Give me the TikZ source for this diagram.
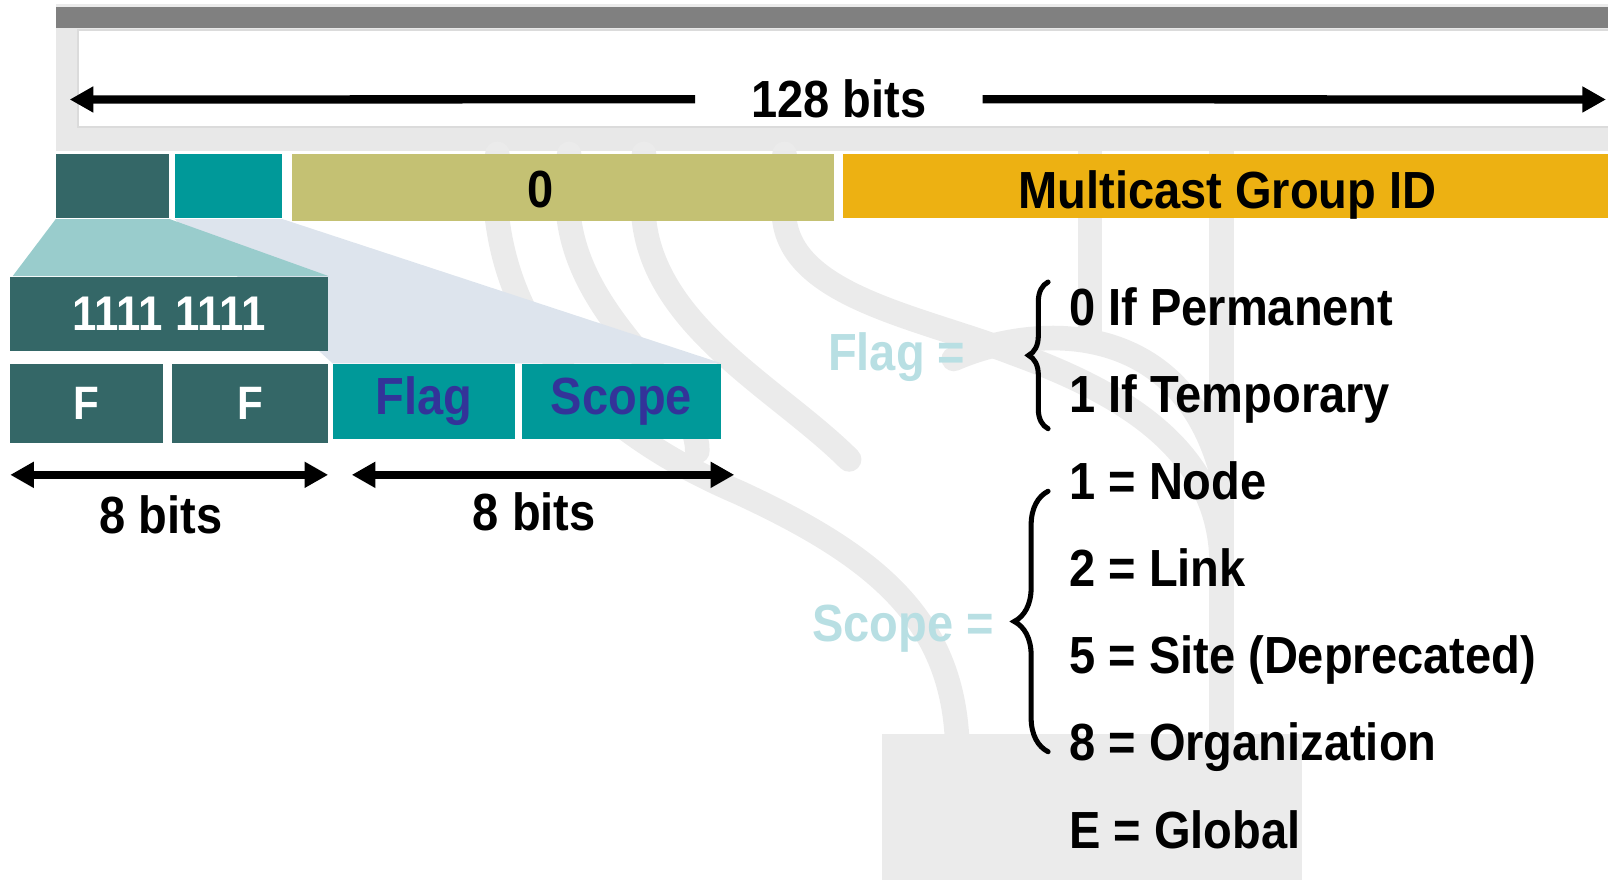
\documentclass[tikz,border=0pt]{standalone}
\usepackage{fontspec}
\setmainfont{Liberation Sans}[FakeStretch=0.9]
\usetikzlibrary{arrows.meta}
\usetikzlibrary{decorations.pathreplacing}

\definecolor{darkteal}{HTML}{346767}
\definecolor{fieldteal}{HTML}{009999}
\definecolor{khaki}{HTML}{C4C173}
\definecolor{amber}{HTML}{EDB112}
\definecolor{paleteal}{HTML}{99CCCC}
\definecolor{paleblue}{HTML}{DDE4ED}
\definecolor{indigo}{HTML}{333399}
\definecolor{ghost}{HTML}{B8DFE3}
\definecolor{wmark}{HTML}{EBEBEB}

\tikzset{
  >={Triangle[length=2.3mm,width=2.4mm]},
  txt/.style={font=\bfseries\fontsize{14.5}{17}\selectfont},
  cell/.style={inner sep=0pt, txt},
  band/.style={wmark, line width=2.4mm, line cap=round},
  dim/.style={line width=2.3pt},
  brc/.style={decorate, line width=1.4pt, line cap=round},
}

\begin{document}
\begin{tikzpicture}[x=0.1mm, y=-0.1mm]
\useasboundingbox (0,0) rectangle (1568,858);

% frame and faint background pattern
\fill[black!8] (55,4) rectangle (1568,7);
\fill[black!50] (55,7) rectangle (1568,27);
\fill[black!9] (55,27) rectangle (1568,147);
\filldraw[fill=white, draw=black!14, line width=0.6pt] (76,29) rectangle (1590,124);
\draw[band, line cap=butt] (1063,147) -- (1063,330);
\draw[band, line cap=butt] (1191,147) -- (1191,858);
\draw[band] (930,350) .. controls (1010,315) and (1150,310) .. (1191,460);
\draw[band] (765,150) -- (765,215) .. controls (775,290) and (900,310) .. (990,345) .. controls (1100,385) and (1185,440) .. (1191,540);
\draw[band] (485,150) -- (485,215) .. controls (500,330) and (580,420) .. (720,480) .. controls (850,540) and (925,600) .. (933,716);
\draw[band] (555,150) -- (555,215) .. controls (570,320) and (680,380) .. (680,440);
\draw[band] (628,150) -- (628,215) .. controls (640,320) and (760,380) .. (828,448);
\fill[wmark] (860,716) rectangle (1270,858);

% 128 bit address
\node[txt, anchor=base, inner xsep=5.4mm] (bits128) at (818,115) {128 bits};
\coordinate (addrL) at (68,97);
\coordinate (addrR) at (1566,97);
\draw[dim,->] (bits128.west) -- (addrL);
\draw[dim,->] (bits128.east) -- (addrR);

\node[cell, fill=darkteal, minimum width=11mm, minimum height=6.3mm] (tagHi) at (110,181.5) {};
\node[cell, fill=fieldteal, minimum width=10.4mm, minimum height=6.3mm] (tagLo) at (223,181.5) {};
\node[cell, fill=khaki, minimum width=52.8mm, minimum height=6.5mm] (zeros) at (549,182.5) {};
\node[txt, anchor=base] (zeroTxt) at (527,202) {0};
\node[cell, fill=amber, minimum width=74.6mm, minimum height=6.3mm] (groupId) at (1195,181.5) {};
\node[txt, anchor=base] (groupTxt) at (1197,203) {Multicast Group ID};

% first byte, split up
\node[cell, fill=darkteal, text=white, minimum width=14.9mm, minimum height=7.7mm, font=\bfseries\fontsize{13}{15}\selectfont] (nibF1) at (84.5,393.5) {F};
\node[cell, fill=darkteal, text=white, minimum width=15.2mm, minimum height=7.7mm, font=\bfseries\fontsize{13}{15}\selectfont] (nibF2) at (244,393.5) {F};
\node[cell, fill=fieldteal, text=indigo, minimum width=17.7mm, minimum height=7.3mm] (flagF) at (413.5,391.5) {Flag};
\node[cell, fill=fieldteal, text=indigo, minimum width=19.4mm, minimum height=7.3mm] (scopeF) at (606,391.5) {Scope};

\fill[paleblue] (tagLo.south west) -- (tagLo.south east) -- (scopeF.north east) -- (flagF.north west) -- cycle;
\node[cell, fill=darkteal, text=white, minimum width=31mm, minimum height=7.2mm, font=\bfseries\fontsize{13.5}{15}\selectfont] (ones) at (165,306) {1111 1111};
\fill[paleteal] (tagHi.south west) -- (tagHi.south east) -- (ones.north east) -- ([xshift=0.3mm]ones.north west) -- cycle;

\coordinate (byteAL) at (10,463);
\coordinate (byteAR) at (320,463);
\coordinate (byteBL) at (343,463);
\coordinate (byteBR) at (716,463);
\draw[dim,<->] (byteAL) -- (byteAR);
\draw[dim,<->] (byteBL) -- (byteBR);
\node[txt, anchor=base] (bitsA) at (157,520) {8 bits};
\node[txt, anchor=base] (bitsB) at (521,517) {8 bits};

% flag and scope values
\node[txt, text=ghost, anchor=base east, inner xsep=0pt] (flagEq) at (942,361) {Flag =};
\node[txt, text=ghost, anchor=base east, inner xsep=0pt] (scopeEq) at (970,626) {Scope =};
\foreach \t [count=\i from 0] in {0 If Permanent, 1 If Temporary, 1 = Node, 2 = Link, 5 = Site (Deprecated), 8 = Organization, E = Global}
  \node[txt, anchor=base west, inner xsep=0pt] (item\i) at (1042,317+85*\i) {\t};

\draw[brc, decoration={brace, amplitude=1.9mm}] (1022,418) -- (1022,275);
\draw[brc, decoration={brace, amplitude=3.3mm}] (1022,733) -- (1022,479);
\end{tikzpicture}
\end{document}
